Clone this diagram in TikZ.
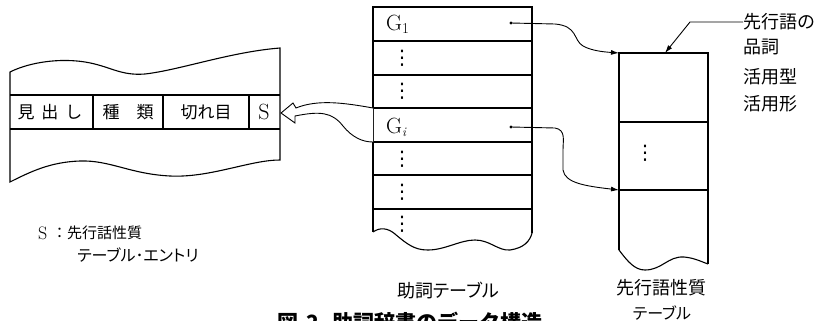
\documentclass[tikz,border=0pt]{standalone}
\usepackage{fontspec}
\newfontfamily\jp{Noto Sans CJK JP}
\newfontfamily\jpp[RawFeature=+palt]{Noto Sans CJK JP}
\newfontfamily\dv{DejaVu Sans}
\usetikzlibrary{arrows.meta}
\begin{document}
\begin{tikzpicture}[x=1pt,y=-1pt,
  tbl/.style={line width=1.1pt},
  thin/.style={line width=0.9pt},
  jt/.style={font=\jp\fontsize{17}{20}\selectfont, inner sep=0pt},
  lt/.style={font=\jp\fontsize{18}{20}\selectfont, inner sep=0pt, anchor=west},
  mt/.style={font=\fontsize{22}{24}\selectfont, inner sep=0pt},
  vdt/.style={font=\dv\fontsize{20}{22}\selectfont, inner sep=0pt},
  ptr/.style={line width=0.9pt, -{Latex[length=8pt,width=5pt]}},
  dotm/.style={circle, fill=black, inner sep=0pt, minimum size=3.4pt}]
\useasboundingbox (0,0) rectangle (819,321);

% ---------- left table (dictionary entry) ----------
\draw[tbl] (10,72) .. controls (30,62) and (60,58) .. (85,62)
  .. controls (110,66) and (120,76) .. (145,74)
  .. controls (180,70) and (230,52) .. (280,48)
  -- (280,160)
  .. controls (250,160) and (210,178) .. (170,176)
  .. controls (130,174) and (110,160) .. (80,161)
  .. controls (50,162) and (30,172) .. (10,182) -- cycle;
\draw[tbl] (10,95) -- (280,95);
\draw[tbl] (10,129) -- (280,129);
\draw[tbl] (93,95) -- (93,129);
\draw[tbl] (163,95) -- (163,129);
\draw[tbl] (249,95) -- (249,129);
\node[jt] (midashi) at (50,112) {見\hspace{7pt}出\hspace{7pt}し};
\node[jt] (shurui) at (128,112) {種\hspace{17pt}類};
\node[jt] (kireme) at (206,112) {切れ目};
\node[mt] (S) at (264,112) {S};
\coordinate (Sr) at (281,113);

% ---------- middle table ----------
\draw[tbl] (373,232) -- (373,7) -- (532,7) -- (532,233);
\draw[tbl] (373,232) .. controls (380,227) and (388,228) .. (395,234)
  .. controls (408,245) and (415,250) .. (428,250)
  .. controls (445,250) and (460,240) .. (475,240)
  .. controls (490,240) and (498,251) .. (510,250)
  .. controls (524,248) and (530,241) .. (532,233);
\foreach \yy in {41,75,108,142,175,209} \draw[tbl] (373,\yy) -- (532,\yy);
\node[mt, anchor=west] (G1) at (386,24) {G\raisebox{-3pt}{\fontsize{15}{16}\selectfont 1}};
\node[mt, anchor=west] (Gi) at (386,127) {G\raisebox{-3pt}{\fontsize{13}{16}\selectfont\itshape i}};
\foreach \yy/\nm in {58/d1,91/d2,159/d3,192/d4,224/d5}
  \node[vdt] (\nm) at (402,\yy) {⋮};
\node[dotm] (p1) at (511,23) {};
\node[dotm] (pi) at (511,127) {};
\coordinate (GiTop) at (373,108);
\coordinate (GiBot) at (373,142);

% hollow arrow to S
\draw[thin, fill=white] (GiTop) .. controls (345,103) and (318,99) .. (296,108)
  -- (293,103) -- (Sr) -- (295,123) -- (295,116)
  .. controls (320,111) and (332,112) .. (343,126)
  .. controls (352,137) and (362,142) .. (GiBot);

% ---------- right table ----------
\draw[tbl] (619,250) -- (619,53) -- (708,53) -- (708,264);
\draw[tbl] (619,250) .. controls (628,262) and (635,270) .. (645,270)
  .. controls (662,270) and (668,256) .. (684,257)
  .. controls (695,258) and (702,262) .. (708,264);
\draw[tbl] (619,122) -- (708,122);
\draw[tbl] (619,190) -- (708,190);
\node[vdt] (rd) at (645,153) {⋮};
\coordinate (R1) at (619,53);
\coordinate (R2) at (619,190);
\coordinate (Rtop) at (665,53);

% pointers
\draw[ptr] (p1.center) -- (555,24) .. controls (578,26) and (573,40) .. (583,46)
  .. controls (592,51) and (605,52) .. (R1);
\draw[ptr] (pi.center) -- (555,128) .. controls (566,130) and (563,140) .. (563,150)
  -- (563,170) .. controls (565,183) and (585,186) .. (R2);

% labels of right table
\node[lt] (lab1) at (743,22) {先行語の};
\node[lt] (lab2) at (743,47) {品詞};
\node[lt] (lab3) at (743,77) {活用型};
\node[lt] (lab4) at (743,104) {活用形};
\coordinate (labk) at (690,22);
\draw[ptr] (lab1.west) -- (labk) -- (Rtop);

% ---------- texts below ----------
\node[mt, anchor=west, font=\fontsize{18}{20}\selectfont] (Snote) at (38,233) {S};
\node[lt, font=\jp\fontsize{15}{18}\selectfont] (note1) at (52,233) {：先行話性質};
\node[lt, font=\jpp\fontsize{16}{18}\selectfont] (note2) at (77,255) {テーブル･エントリ};
\node[jt, font=\jpp\fontsize{18}{20}\selectfont] (cap1) at (448,291) {助詞テーブル};
\node[jt, font=\jp\fontsize{18}{20}\selectfont] (cap2) at (661,288) {先行語性質};
\node[jt, font=\jpp\fontsize{16}{20}\selectfont] (cap3) at (662,313) {テーブル};
\node[font=\jp\bfseries\fontsize{21}{24}\selectfont, inner sep=0pt] (fig) at (410,322)
  {図\hspace{8pt}2\hspace{14pt}助詞辞書のデータ構造};
\end{tikzpicture}
\end{document}
